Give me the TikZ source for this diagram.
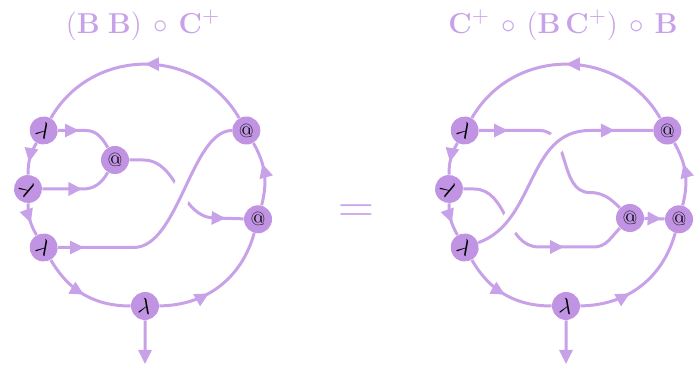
\documentclass[tikz,border=0pt]{standalone}
\usepackage{amsmath, amssymb}
\usepackage{tikz}
\usetikzlibrary{positioning,arrows.meta,decorations.markings,calc}
\definecolor{lilac}{HTML}{C8A2E8}
\definecolor{lilacdk}{HTML}{C094E2}
\tikzset{
  lam/.style ={circle, fill=lilacdk, minimum size=14pt, inner sep=0pt, font=\fontsize{11}{11}\selectfont},
  app/.style ={circle, fill=lilacdk, minimum size=14pt, inner sep=0pt, font=\fontsize{9.5}{9.5}\selectfont},
  wire/.style={lilac, line width=1.5pt},
  marrow/.style={postaction={decorate, decoration={markings, mark=at position #1 with {\arrow{Triangle[length=7pt, width=6.5pt]}}}}},
  over/.style={preaction={draw=white, line width=10pt, shorten <=6pt, shorten >=6pt}},
  outarr/.style={-{Triangle[length=7pt, width=6.5pt]}},
  ttl/.style ={text=lilac, font=\fontsize{15}{17}\selectfont},
}

\begin{document}
\begin{tikzpicture}[x=0.5pt, y=0.5pt]
  \useasboundingbox (0,0) rectangle (696,369);
  % (B B) o C+
  \node[ttl] (tl) at (143,344) {$(\mathbf{B}\;\mathbf{B})\,\circ\,\mathbf{C}^{+}$};
  \begin{scope}[shift={(145,180)}]
    \node[lam, rotate=-30] (a1) at (150:117) {$\lambda$};
    \node[lam, rotate=-60] (a2) at (180:117) {$\lambda$};
    \node[lam, rotate=-30] (a3) at (210:117) {$\lambda$};
    \node[lam, rotate=-10] (a4) at (270:117) {$\lambda$};
    \node[app] (b1) at (-30,29) {@};
    \node[app] (b2) at (-15:117) {@};
    \node[app] (b3) at (30:117) {@};
    \coordinate (oL) at (0,-175);
    % inner wires
    \draw[wire, marrow=10.5pt] (a1) -- ++(42,0) to[out=0, in=120] (b1);
    \draw[wire, marrow=20pt] (a2) -- ++(55,0) to[out=0, in=-120] (b1);
    \draw[wire, marrow=-9pt] (b1) -- ++(28,0) to[out=0, in=180] ++(72,-58) -- (b2);
    \draw[wire, over, marrow=13pt] (a3) -- ++(90,0) .. controls +(45,0) and +(-55,0) .. (b3);
    % outer loop
    \draw[wire, marrow=0.5] (b3) to[bend right=60, looseness=1.13] (a1);
    \draw[wire, marrow=0.62] (a1) to[bend right=15] (a2);
    \draw[wire, marrow=0.6] (a2) to[bend right=15] (a3);
    \draw[wire, marrow=0.5] (a3) to[bend right=30] (a4);
    \draw[wire, marrow=0.4] (a4) to[bend right=37] (b2);
    \draw[wire, marrow=0.65] (b2) to[bend right=22] (b3);
    \draw[wire, outarr] (a4) -- (oL);
  \end{scope}

  \node[lilac, font=\fontsize{26}{26}\selectfont] (eq) at (356,155) {$=$};

  % C+ o (B C+) o B
  \node[ttl] (tr) at (563,344) {$\mathbf{C}^{+}\,\circ\,(\mathbf{B}\,\mathbf{C}^{+})\,\circ\,\mathbf{B}$};
  \begin{scope}[shift={(566,180)}]
    \node[lam, rotate=-30] (c1) at (150:117) {$\lambda$};
    \node[lam, rotate=-60] (c2) at (180:117) {$\lambda$};
    \node[lam, rotate=-30] (c3) at (210:117) {$\lambda$};
    \node[lam, rotate=-10] (c4) at (270:117) {$\lambda$};
    \node[app] (d1) at (64,-29) {@};
    \node[app] (d2) at (-15:117) {@};
    \node[app] (d3) at (30:117) {@};
    \coordinate (oR) at (0,-175);
    % inner wires
    \draw[wire, marrow=14.5pt] (c1) -- ++(75,0) to[out=0, in=180] ++(50,-62) to[out=0, in=135] (d1);
    \draw[wire, marrow=64pt] (c2) -- ++(25,0) to[out=0, in=180] ++(65,-58) -- ++(55,0) to[out=0, in=-135] (d1);
    \draw[wire, over, marrow=-19pt] (c3) to[out=25, in=180] ++(125,117) -- (d3);
    \draw[wire, marrow=0.85] (d1) -- (d2);
    % outer loop
    \draw[wire, marrow=0.5] (d3) to[bend right=60, looseness=1.13] (c1);
    \draw[wire, marrow=0.62] (c1) to[bend right=15] (c2);
    \draw[wire, marrow=0.6] (c2) to[bend right=15] (c3);
    \draw[wire, marrow=0.5] (c3) to[bend right=30] (c4);
    \draw[wire, marrow=0.4] (c4) to[bend right=37] (d2);
    \draw[wire, marrow=0.65] (d2) to[bend right=22] (d3);
    \draw[wire, outarr] (c4) -- (oR);
  \end{scope}
\end{tikzpicture}
\end{document}
